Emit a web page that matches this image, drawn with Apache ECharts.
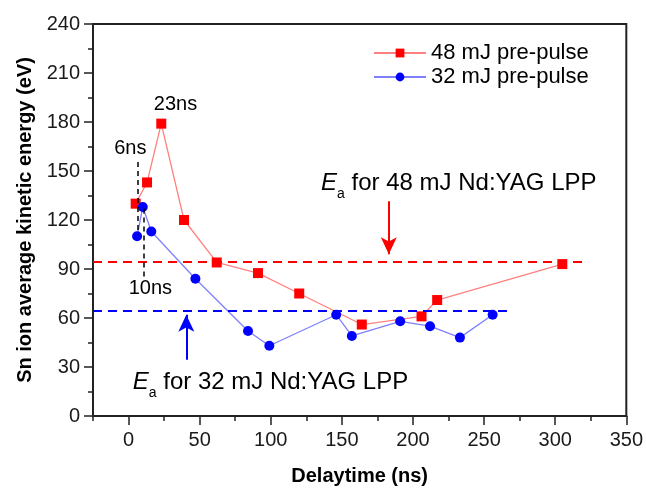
<!DOCTYPE html>
<html>
<head>
<meta charset="utf-8">
<style>
  html, body { margin: 0; padding: 0; background: #fff; }
  #chart { width: 646px; height: 491px; }
</style>
<script src="https://cdn.jsdelivr.net/npm/echarts@6/dist/echarts.min.js"></script>
</head>
<body>
<div id="chart"></div>
<script>
// Delay time (ns) and Sn ion average kinetic energy (eV)
const delay48 = [5, 13, 23, 39, 62, 91, 120, 164, 206, 217, 305];
const energy48 = [130, 143, 179, 120, 94, 87.5, 75, 56, 61, 71, 93];
const delay32 = [6, 10, 16, 47, 84, 99, 146, 157, 191, 212, 233, 256];
const energy32 = [110, 128, 113, 84, 52, 43, 62, 49, 58, 55, 48, 62];

// Average energy of the plain Nd:YAG LPP, with the delay span each level is drawn over
const ea48 = 94.4, ea48Span = [-25, 322];
const ea32 = 64.2, ea32Span = [-25, 269];

const seriesNames = ['48 mJ pre-pulse', '32 mJ pre-pulse'];
const xTickLabels = [0, 50, 100, 150, 200, 250, 300, 350];
const yTickLabels = [0, 30, 60, 90, 120, 150, 180, 210, 240];

// Text notes placed in data coordinates
const notes = [
  { text: '6ns', at: [1.2, 164] },
  { text: '23ns', at: [33, 191] },
  { text: '10ns', at: [15.3, 78] }
];
const eaNotes = [
  { text: '{e|E}{s|a}{t| for 48 mJ Nd:YAG LPP}', at: [135, 142.5] },
  { text: '{e|E}{s|a}{t| for 32 mJ Nd:YAG LPP}', at: [2.6, 20.7] }
];

const FONT = '"Liberation Sans", Arial, Helvetica, sans-serif';
const AXIS_COLOR = '#222';
const TEXT_COLOR = '#000';

const zip = (xs, ys) => xs.map((x, i) => [x, ys[i]]);

// Italic E with a lowered subscript a
const eaRich = {
  e: { fontFamily: FONT, fontStyle: 'italic', fontSize: 24, lineHeight: 36, color: TEXT_COLOR },
  s: { fontFamily: FONT, fontSize: 14, lineHeight: 14, verticalAlign: 'bottom', color: TEXT_COLOR },
  t: { fontFamily: FONT, fontSize: 24, lineHeight: 36, color: TEXT_COLOR }
};

const chart = echarts.init(document.getElementById('chart'), null, { renderer: 'canvas' });

chart.setOption({
  animation: false,
  backgroundColor: '#fff',
  textStyle: { fontFamily: FONT },
  grid: {
    left: 93, right: 19, top: 24, bottom: 71,
    show: true, borderColor: AXIS_COLOR, borderWidth: 2, backgroundColor: 'transparent'
  },
  legend: {
    data: seriesNames,
    orient: 'vertical',
    left: 368, top: 37,
    itemWidth: 52, itemHeight: 11, itemGap: 2,
    textStyle: { fontFamily: FONT, fontSize: 22, lineHeight: 22, color: TEXT_COLOR }
  },
  xAxis: [
    {
      type: 'value', min: -25, max: 350, interval: 25,
      name: 'Delaytime (ns)', nameLocation: 'middle', nameGap: 50,
      nameTextStyle: { fontFamily: FONT, fontSize: 20, fontWeight: 'bold', color: TEXT_COLOR },
      axisLine: { show: true, onZero: false, lineStyle: { color: AXIS_COLOR, width: 2 } },
      axisTick: { show: true, length: 5, lineStyle: { color: AXIS_COLOR, width: 1.5 } },
      axisLabel: { show: false },
      splitLine: { show: false }
    },
    {
      type: 'value', min: -25, max: 350, position: 'bottom',
      axisLine: { show: false, onZero: false },
      axisTick: { show: true, length: 9, customValues: xTickLabels, lineStyle: { color: AXIS_COLOR, width: 1.5 } },
      axisLabel: {
        show: true, customValues: xTickLabels, margin: 14,
        fontFamily: FONT, fontSize: 20, color: '#1a1a1a'
      },
      splitLine: { show: false }
    }
  ],
  yAxis: {
    type: 'value', min: 0, max: 240, interval: 30,
    name: 'Sn ion average kinetic energy (eV)', nameLocation: 'middle', nameGap: 58,
    nameTextStyle: { fontFamily: FONT, fontSize: 20, fontWeight: 'bold', color: TEXT_COLOR },
    axisLine: { show: true, onZero: false, lineStyle: { color: AXIS_COLOR, width: 2 } },
    axisTick: { show: true, length: 9, lineStyle: { color: AXIS_COLOR, width: 1.5 } },
    minorTick: { show: true, splitNumber: 2, length: 5, lineStyle: { color: AXIS_COLOR, width: 1.5 } },
    axisLabel: {
      margin: 13, fontFamily: FONT, fontSize: 20, color: '#1a1a1a',
      formatter: v => (yTickLabels.includes(v) ? String(v) : '')
    },
    splitLine: { show: false }
  },
  series: [
    {
      name: seriesNames[0], type: 'line', xAxisIndex: 0,
      data: zip(delay48, energy48),
      symbol: 'rect', symbolSize: 10, z: 4,
      lineStyle: { color: '#ff8080', width: 1.3 },
      itemStyle: { color: '#ff0000' },
      markLine: {
        silent: true, symbol: 'none', animation: false,
        label: { show: false },
        data: [
          [
            { coord: [ea48Span[0], ea48], lineStyle: { color: '#ff0000', width: 2, type: [9, 6] } },
            { coord: [ea48Span[1], ea48] }
          ],
          [
            { coord: [183, 131.5], symbol: 'none', lineStyle: { color: '#ff0000', width: 2, type: 'solid' } },
            { coord: [183, 99], symbol: 'arrow', symbolSize: [12, 17] }
          ]
        ]
      }
    },
    {
      name: seriesNames[1], type: 'line', xAxisIndex: 0,
      data: zip(delay32, energy32),
      symbol: 'circle', symbolSize: 10, z: 4,
      lineStyle: { color: '#8080ff', width: 1.3 },
      itemStyle: { color: '#0000ff' },
      markLine: {
        silent: true, symbol: 'none', animation: false,
        label: { show: false },
        data: [
          [
            { coord: [ea32Span[0], ea32], lineStyle: { color: '#0000ff', width: 2, type: [9, 6] } },
            { coord: [ea32Span[1], ea32] }
          ],
          [
            { coord: [40.6, 34.5], symbol: 'none', lineStyle: { color: '#0000ff', width: 2, type: 'solid' } },
            { coord: [40.6, 62], symbol: 'arrow', symbolSize: [12, 17] }
          ],
          [
            { coord: [6.2, 155.5], lineStyle: { color: '#000', width: 1.5, type: [5, 4] } },
            { coord: [6.2, 111] }
          ],
          [
            { coord: [10.5, 127], lineStyle: { color: '#000', width: 1.5, type: [5, 4] } },
            { coord: [10.5, 83] }
          ]
        ]
      }
    },
    {
      name: 'notes', type: 'scatter', xAxisIndex: 0, silent: true,
      symbolSize: 1, itemStyle: { color: 'rgba(0,0,0,0)' },
      data: notes.map(n => ({ value: n.at, note: n.text })),
      label: {
        show: true, position: 'inside', opacity: 1,
        fontFamily: FONT, fontSize: 20, color: TEXT_COLOR,
        formatter: p => p.data.note
      },
      labelLayout: { hideOverlap: false }
    },
    {
      name: 'ea-notes', type: 'scatter', xAxisIndex: 0, silent: true,
      symbolSize: 1, itemStyle: { color: 'rgba(0,0,0,0)' },
      data: eaNotes.map(n => ({ value: n.at, note: n.text })),
      label: {
        show: true, position: 'right', distance: 0, opacity: 1,
        formatter: p => p.data.note,
        rich: eaRich
      },
      labelLayout: { hideOverlap: false }
    }
  ]
});
</script>
</body>
</html>
